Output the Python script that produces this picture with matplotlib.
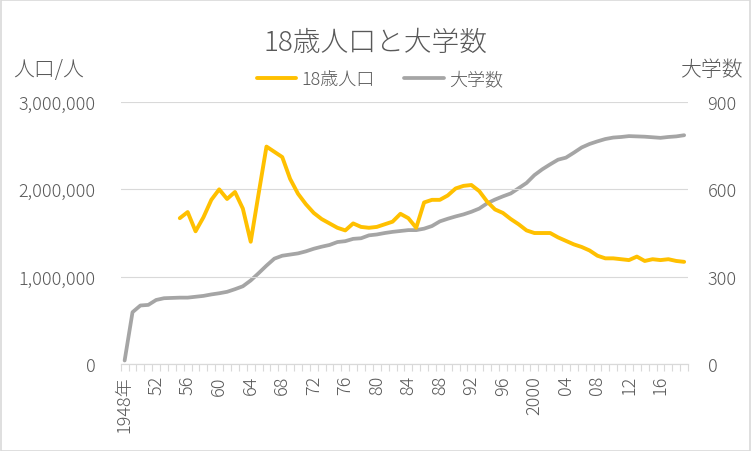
import numpy as np
import matplotlib.pyplot as plt
from matplotlib.ticker import FuncFormatter, FixedLocator
from matplotlib.patches import Rectangle

plt.rcParams['font.family'] = ['Noto Sans CJK JP', 'DejaVu Sans']
plt.rcParams['font.weight'] = 'light'

years = list(range(1948, 2020))

# 18歳人口 (1955年から)
pop_start = 1955
pop18 = [1670000, 1740000, 1520000, 1680000, 1880000, 2000000, 1890000, 1970000,
         1780000, 1400000, 1950000, 2490000, 2430000, 2370000, 2120000, 1950000,
         1830000, 1730000, 1660000, 1610000, 1560000, 1530000, 1610000, 1570000,
         1560000, 1570000, 1600000, 1630000, 1720000, 1670000, 1560000, 1850000,
         1880000, 1880000, 1930000, 2010000, 2040000, 2050000, 1980000, 1860000,
         1770000, 1730000, 1660000, 1600000, 1530000, 1500000, 1500000, 1500000,
         1450000, 1410000, 1370000, 1340000, 1300000, 1240000, 1210000, 1210000,
         1200000, 1190000, 1230000, 1180000, 1200000, 1190000, 1200000, 1180000,
         1170000]

univ = [12, 178, 201, 203, 220, 226, 227, 228, 228, 231, 234, 239, 243, 248, 257,
        267, 287, 312, 338, 362, 372, 376, 380, 387, 396, 403, 409, 419, 422, 430,
        432, 442, 445, 450, 454, 457, 460, 460, 465, 474, 490, 499, 507, 514, 523,
        534, 552, 565, 576, 586, 604, 622, 649, 669, 686, 702, 709, 726, 744, 756,
        765, 773, 778, 780, 783, 782, 781, 779, 777, 780, 782, 786]

label_years = list(range(1948, 2020, 4))


def year_label(y):
    if y == 1948:
        return '1948年'
    if y == 2000:
        return '2000'
    return '%02d' % (y % 100)


txt = '#595959'
grid = '#d9d9d9'
yellow = '#FFC000'
gray = '#A5A5A5'

fig = plt.figure(figsize=(7.52, 4.52), dpi=100)
ax = fig.add_axes([0.1605, 0.1925, 0.915 - 0.1605, 0.772 - 0.1925])
ax2 = ax.twinx()

x_all = np.arange(len(years))
x_pop = np.arange(pop_start - 1948, pop_start - 1948 + len(pop18))

l2, = ax2.plot(x_all, univ, color=gray, lw=2.7, solid_capstyle='round', label='大学数')
l1, = ax.plot(x_pop, pop18, color=yellow, lw=2.8, solid_capstyle='round', label='18歳人口')
ax.set_zorder(ax2.get_zorder() + 1)
ax.patch.set_visible(False)

ax.set_xlim(-0.5, len(years) - 0.5)
ax.set_ylim(0, 3000000)
ax2.set_ylim(0, 900)
ax.set_yticks([0, 1000000, 2000000, 3000000])
ax2.set_yticks([0, 300, 600, 900])
ax.yaxis.set_major_formatter(FuncFormatter(lambda v, p: '{:,}'.format(int(v))))

ax.grid(axis='y', color=grid, lw=0.8)
ax.set_axisbelow(True)

for a in (ax, ax2):
    for s in ('top', 'left', 'right'):
        a.spines[s].set_visible(False)
    a.spines['bottom'].set_color(grid)
    a.spines['bottom'].set_linewidth(0.8)

ax.xaxis.set_major_locator(FixedLocator([y - 1948 for y in label_years]))
ax.set_xticklabels([year_label(y) for y in label_years], rotation=90, va='top', ha='center')
ax.xaxis.set_minor_locator(FixedLocator(np.arange(-0.5, len(years), 1.0)))
ax.tick_params(axis='x', which='major', length=0, pad=8, labelsize=13, labelcolor=txt)
ax.tick_params(axis='x', which='minor', length=5, width=0.8, color=grid, direction='out')
ax.tick_params(axis='y', length=0, pad=18, labelsize=13, labelcolor=txt)
ax2.tick_params(axis='y', length=0, pad=14, labelsize=13, labelcolor=txt)

fig.text(0.5, 0.905, '18歳人口と大学数', ha='center', va='center', fontsize=20, color=txt)
fig.text(0.018, 0.845, '人口/人', ha='left', va='center', fontsize=15, color=txt)
fig.text(0.987, 0.845, '大学数', ha='right', va='center', fontsize=15, color=txt)

fig.legend(handles=[l1, l2], loc='center', bbox_to_anchor=(0.505, 0.822), ncol=2,
           frameon=False, fontsize=13, labelcolor=txt, handlelength=2.2,
           columnspacing=1.6, handletextpad=0.3)

fig.patches.append(Rectangle((0.001, 0.001), 0.997, 0.997, transform=fig.transFigure,
                             fill=False, edgecolor=grid, lw=1.2))

fig.savefig('out.png', dpi=100)
